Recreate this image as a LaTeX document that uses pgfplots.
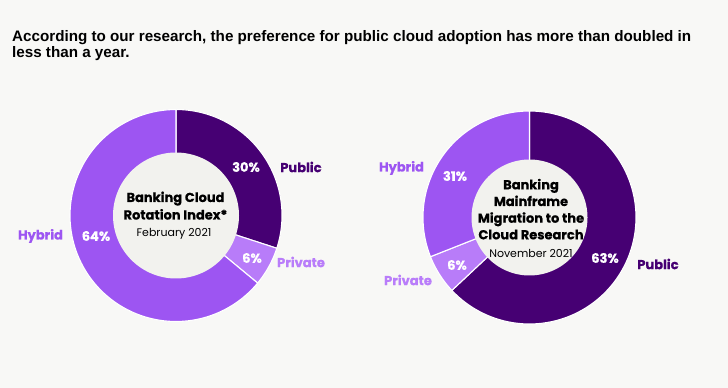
\documentclass[border=0pt]{standalone}
\usepackage{pgfplots}
\pgfplotsset{compat=1.18}
\usepackage{pgfplotstable}
\usepackage{fontspec}
\setmainfont{Liberation Sans}
\newfontfamily\pop{Poppins}[BoldFeatures={FakeBold=0.5}]
\definecolor{bgc}{HTML}{F8F8F6}
\definecolor{innerc}{HTML}{F2F2EE}
\definecolor{pub}{HTML}{460073}
\definecolor{hyb}{HTML}{9D55F2}
\definecolor{priv}{HTML}{B87CF9}
\definecolor{privtxt}{HTML}{B97DFA}

% slice: cx, cy, R, start %, end % (clockwise from 12 o'clock), colour
\newcommand{\slice}[6]{%
  \addplot[fill=#6, draw=white, line width=1.1pt, domain={90-3.6*(#5)}:{90-3.6*(#4)}, samples=90]
    ({#1+#3*cos(x)},{#2+#3*sin(x)}) -- (axis cs:#1,#2) -- cycle;
}
\newcommand{\hole}[3]{%
  \addplot[fill=innerc, draw=none, domain=0:360, samples=160]
    ({#1+#3*cos(x)},{#2+#3*sin(x)}) -- cycle;
}

\begin{document}
\begin{tikzpicture}
\begin{axis}[hide axis, scale only axis, width=728pt, height=388pt,
  xmin=0, xmax=728, ymin=0, ymax=388, clip=false]
\fill[bgc] (axis cs:0,0) rectangle (axis cs:728,388);

% Left donut (February 2021): Public 30, Private 6, Hybrid 64
\slice{176}{172.5}{106}{0}{30}{pub}
\slice{176}{172.5}{106}{30}{36}{priv}
\slice{176}{172.5}{106}{36}{100}{hyb}
\hole{176}{172.5}{63}

% Right donut (November 2021): Public 63, Private 6, Hybrid 31
\slice{529.5}{170.5}{106.5}{0}{63}{pub}
\slice{529.5}{170.5}{106.5}{63}{69}{priv}
\slice{529.5}{170.5}{106.5}{69}{100}{hyb}
\hole{529.5}{170.5}{58}

% Title
\node[anchor=base west, font=\bfseries\fontsize{15.2}{16}\selectfont, inner sep=0pt] at (axis cs:12,346) {According to our research, the preference for public cloud adoption has more than doubled in};
\node[anchor=base west, font=\bfseries\fontsize{15.2}{16}\selectfont, inner sep=0pt] at (axis cs:12,330.5) {less than a year.};

% Left labels
\node[font=\pop\bfseries\fontsize{13}{14}\selectfont, text=white] at (axis cs:246,221) {30\%};
\node[font=\pop\bfseries\fontsize{13}{14}\selectfont, text=pub] at (axis cs:301,221) {Public};
\node[font=\pop\bfseries\fontsize{13}{14}\selectfont, text=white] at (axis cs:252,130) {6\%};
\node[font=\pop\bfseries\fontsize{13}{14}\selectfont, text=privtxt] at (axis cs:301,126) {Private};
\node[font=\pop\bfseries\fontsize{13}{14}\selectfont, text=hyb] at (axis cs:40.5,152) {Hybrid};
\node[font=\pop\bfseries\fontsize{13}{14}\selectfont, text=white] at (axis cs:96,152) {64\%};

\node[anchor=base, font=\pop\bfseries\fontsize{13}{14}\selectfont, inner sep=0pt] at (axis cs:175.5,186) {Banking Cloud};
\node[anchor=base, font=\pop\bfseries\fontsize{13}{14}\selectfont, inner sep=0pt] at (axis cs:175.5,168.5) {Rotation Index*};
\node[anchor=base, font=\pop\fontsize{11}{12}\selectfont, inner sep=0pt] at (axis cs:174,151) {February 2021};

% Right labels
\node[font=\pop\bfseries\fontsize{13}{14}\selectfont, text=hyb] at (axis cs:401.5,220) {Hybrid};
\node[font=\pop\bfseries\fontsize{13}{14}\selectfont, text=white] at (axis cs:455,212) {31\%};
\node[font=\pop\bfseries\fontsize{13}{14}\selectfont, text=white] at (axis cs:457,123) {6\%};
\node[font=\pop\bfseries\fontsize{13}{14}\selectfont, text=privtxt] at (axis cs:408,108) {Private};
\node[font=\pop\bfseries\fontsize{13}{14}\selectfont, text=white] at (axis cs:605,130) {63\%};
\node[font=\pop\bfseries\fontsize{13}{14}\selectfont, text=pub] at (axis cs:658,124) {Public};

\node[anchor=base, font=\pop\bfseries\fontsize{13}{14}\selectfont, inner sep=0pt] at (axis cs:531,198.7) {Banking};
\node[anchor=base, font=\pop\bfseries\fontsize{13}{14}\selectfont, inner sep=0pt] at (axis cs:531,182) {Mainframe};
\node[anchor=base, font=\pop\bfseries\fontsize{13}{14}\selectfont, inner sep=0pt] at (axis cs:531,165.3) {Migration to the};
\node[anchor=base, font=\pop\bfseries\fontsize{13}{14}\selectfont, inner sep=0pt] at (axis cs:531,148.7) {Cloud Research};
\node[anchor=base, font=\pop\fontsize{11}{12}\selectfont, inner sep=0pt] at (axis cs:531,130.3) {November 2021};
\end{axis}
\end{tikzpicture}
\end{document}
